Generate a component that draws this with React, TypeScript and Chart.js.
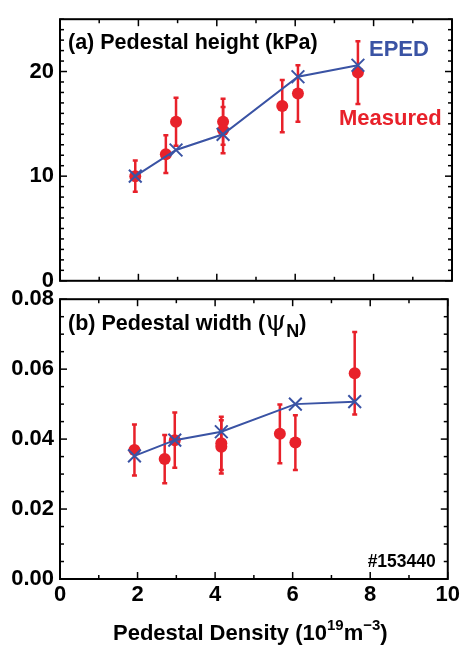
import React, { useEffect, useRef } from 'react';
import { Chart, registerables } from 'chart.js';

Chart.register(...registerables);

// ---- data ----
const X_MEASURED = [1.92, 2.7, 2.96, 4.16, 4.16, 5.67, 6.07, 7.6];
const HEIGHT_MEASURED = [10.0, 12.1, 15.2, 15.2, 14.4, 16.7, 17.9, 19.9];
const HEIGHT_ERR = [1.5, 1.8, 2.3, 2.2, 2.2, 2.5, 2.7, 3.0];
const WIDTH_MEASURED = [0.0369, 0.0343, 0.0397, 0.0388, 0.0378, 0.0415, 0.039, 0.0588];
const WIDTH_ERR = [0.0073, 0.0069, 0.0079, 0.0076, 0.0076, 0.0084, 0.0078, 0.0118];
const X_EPED = [1.92, 2.96, 4.16, 6.07, 7.6];
const HEIGHT_EPED = [10.0, 12.5, 14.0, 19.5, 20.6];
const WIDTH_EPED = [0.0352, 0.0397, 0.0421, 0.05, 0.0507];
const X_TICKS = [0, 2, 4, 6, 8, 10];
const X_TICK_LABELS = ['0', '2', '4', '6', '8', '10'];
const HEIGHT_TICKS = [0, 10, 20];
const HEIGHT_TICK_LABELS = ['0', '10', '20'];
const WIDTH_TICKS = [0, 0.02, 0.04, 0.06, 0.08];
const WIDTH_TICK_LABELS = ['0.00', '0.02', '0.04', '0.06', '0.08'];

const FONT = "'Liberation Sans', Arial, Helvetica, sans-serif";
const RED = '#e8212a';
const BLUE = '#3a53a4';

function framePlugin(xMinor: number, xMajor: number, yMinor: number, yMajor: number) {
  return {
    id: 'frame',
    afterDraw(chart: any) {
      const { ctx, chartArea: a, scales } = chart;
      const xs = scales.x;
      const ys = scales.y;
      ctx.save();
      ctx.strokeStyle = '#000';
      ctx.lineWidth = 1.5;
      const isMajor = (v: number, m: number) => Math.abs(v / m - Math.round(v / m)) < 1e-6;
      const line = (x1: number, y1: number, x2: number, y2: number) => {
        ctx.beginPath();
        ctx.moveTo(x1, y1);
        ctx.lineTo(x2, y2);
        ctx.stroke();
      };
      const nx = Math.round((xs.max - xs.min) / xMinor);
      for (let i = 0; i <= nx; i++) {
        const v = xs.min + i * xMinor;
        const len = isMajor(v, xMajor) ? 7 : 4;
        const px = xs.getPixelForValue(v);
        line(px, a.bottom, px, a.bottom - len);
        line(px, a.top, px, a.top + len);
      }
      const ny = Math.round((ys.max - ys.min) / yMinor);
      for (let i = 0; i <= ny; i++) {
        const v = ys.min + i * yMinor;
        const len = isMajor(v, yMajor) ? 7 : 4;
        const py = ys.getPixelForValue(v);
        line(a.left, py, a.left + len, py);
        line(a.right, py, a.right - len, py);
      }
      ctx.lineWidth = 2;
      ctx.strokeRect(a.left, a.top, a.right - a.left, a.bottom - a.top);
      ctx.restore();
    },
  };
}

function errorBarPlugin(xv: number[], yv: number[], err: number[]) {
  return {
    id: 'errorBars',
    beforeDatasetsDraw(chart: any) {
      const { ctx, scales } = chart;
      const x = scales.x;
      const y = scales.y;
      ctx.save();
      ctx.strokeStyle = RED;
      ctx.lineWidth = 2.5;
      xv.forEach((xx, i) => {
        const px = x.getPixelForValue(xx);
        const top = y.getPixelForValue(yv[i] + err[i]);
        const bot = y.getPixelForValue(yv[i] - err[i]);
        ctx.beginPath();
        ctx.moveTo(px, top);
        ctx.lineTo(px, bot);
        ctx.moveTo(px - 2.5, top);
        ctx.lineTo(px + 2.5, top);
        ctx.moveTo(px - 2.5, bot);
        ctx.lineTo(px + 2.5, bot);
        ctx.stroke();
      });
      ctx.restore();
    },
  };
}

type Part = { t: string; size: number; dy?: number; family?: string; weight?: string; dx?: number };

function drawParts(ctx: any, parts: Part[], x: number, y: number) {
  let cx = x;
  parts.forEach((p) => {
    ctx.font = `${p.weight || 'bold'} ${p.size}px ${p.family || FONT}`;
    cx += p.dx || 0;
    ctx.fillText(p.t, cx, y + (p.dy || 0));
    cx += ctx.measureText(p.t).width;
  });
}

function textPlugin(draw: (ctx: any, a: any) => void) {
  return {
    id: 'texts',
    afterDraw(chart: any) {
      const ctx = chart.ctx;
      ctx.save();
      ctx.textBaseline = 'alphabetic';
      ctx.textAlign = 'left';
      draw(ctx, chart.chartArea);
      ctx.restore();
    },
  };
}

function scatterData(xs: number[], ys: number[]) {
  return xs.map((x, i) => ({ x, y: ys[i] }));
}

function buildChart(
  canvas: HTMLCanvasElement,
  opts: {
    eped: number[];
    meas: number[];
    err: number[];
    yMin: number;
    yMax: number;
    yTicks: number[];
    yLabels: string[];
    yMinor: number;
    yMajor: number;
    showX: boolean;
    padding: any;
    texts: (ctx: any, a: any) => void;
  }
) {
  return new Chart(canvas, {
    type: 'scatter',
    data: {
      datasets: [
        {
          label: 'EPED',
          data: scatterData(X_EPED, opts.eped),
          showLine: true,
          borderColor: BLUE,
          borderWidth: 2,
          pointStyle: 'crossRot',
          pointRadius: 9,
          pointBorderWidth: 2,
          pointBorderColor: BLUE,
          pointBackgroundColor: BLUE,
          order: 0,
        } as any,
        {
          label: 'Measured',
          data: scatterData(X_MEASURED, opts.meas),
          showLine: false,
          pointStyle: 'circle',
          pointRadius: 6,
          pointBorderWidth: 0,
          backgroundColor: RED,
          pointBackgroundColor: RED,
          order: 1,
        } as any,
      ],
    },
    options: {
      responsive: false,
      animation: false,
      devicePixelRatio: 1,
      events: [],
      layout: { padding: opts.padding },
      plugins: { legend: { display: false }, tooltip: { enabled: false } },
      scales: {
        x: {
          type: 'linear',
          min: 0,
          max: 10,
          display: opts.showX,
          grid: { display: false, drawTicks: false },
          border: { display: false },
          ticks: {
            autoSkip: false,
            maxRotation: 0,
            padding: 3,
            color: '#000',
            font: { family: FONT, size: 22, weight: 'bold' },
            callback: (_v: any, i: number) => X_TICK_LABELS[i],
          },
          afterBuildTicks: (s: any) => {
            s.ticks = X_TICKS.map((v) => ({ value: v }));
          },
          afterFit: (s: any) => {
            if (opts.showX) s.height = 75;
          },
        },
        y: {
          type: 'linear',
          min: opts.yMin,
          max: opts.yMax,
          grid: { display: false, drawTicks: false },
          border: { display: false },
          ticks: {
            autoSkip: false,
            padding: 6,
            color: '#000',
            font: { family: FONT, size: 22, weight: 'bold' },
            callback: (_v: any, i: number) => opts.yLabels[i],
          },
          afterBuildTicks: (s: any) => {
            s.ticks = opts.yTicks.map((v) => ({ value: v }));
          },
          afterFit: (s: any) => {
            s.width = 60;
          },
        },
      },
    } as any,
    plugins: [
      errorBarPlugin(X_MEASURED, opts.meas, opts.err),
      framePlugin(1, 2, opts.yMinor, opts.yMajor),
      textPlugin(opts.texts),
    ],
  });
}

export default function App() {
  const topRef = useRef<HTMLCanvasElement>(null);
  const botRef = useRef<HTMLCanvasElement>(null);

  useEffect(() => {
    const c1 = buildChart(topRef.current!, {
      eped: HEIGHT_EPED,
      meas: HEIGHT_MEASURED,
      err: HEIGHT_ERR,
      yMin: 0,
      yMax: 25,
      yTicks: HEIGHT_TICKS,
      yLabels: HEIGHT_TICK_LABELS,
      yMinor: 1,
      yMajor: 10,
      showX: false,
      padding: { top: 10, right: 11, bottom: 11, left: 0 },
      texts: (ctx, a) => {
        ctx.fillStyle = '#000';
        ctx.font = `bold 21.5px ${FONT}`;
        ctx.fillText('(a) Pedestal height (kPa)', a.left + 8, a.top + 30);
        ctx.font = `bold 22px ${FONT}`;
        ctx.fillStyle = BLUE;
        ctx.fillText('EPED', 369, 56);
        ctx.fillStyle = RED;
        ctx.fillText('Measured', 339, 125);
      },
    });
    const c2 = buildChart(botRef.current!, {
      eped: WIDTH_EPED,
      meas: WIDTH_MEASURED,
      err: WIDTH_ERR,
      yMin: 0,
      yMax: 0.08,
      yTicks: WIDTH_TICKS,
      yLabels: WIDTH_TICK_LABELS,
      yMinor: 0.005,
      yMajor: 0.02,
      showX: true,
      padding: { top: 19, right: 11, bottom: 0, left: 0 },
      texts: (ctx, a) => {
        ctx.fillStyle = '#000';
        drawParts(
          ctx,
          [
            { t: '(b) Pedestal width (', size: 21.5 },
            { t: 'ψ', size: 27, weight: 'normal', family: "'DejaVu Serif', 'Liberation Serif', serif" },
            { t: 'N', size: 18, dy: 7 },
            { t: ')', size: 21.5 },
          ],
          a.left + 8,
          a.top + 31
        );
        ctx.font = `bold 17.5px ${FONT}`;
        ctx.textAlign = 'right';
        ctx.fillText('#153440', a.right - 12, a.bottom - 12);
        ctx.textAlign = 'left';
        drawParts(
          ctx,
          [
            { t: 'Pedestal Density (10', size: 22 },
            { t: '19', size: 15, dy: -10 },
            { t: 'm', size: 22 },
            { t: '\u22123', size: 15, dy: -10 },
            { t: ')', size: 22 },
          ],
          113,
          a.bottom + 61
        );
      },
    });
    return () => {
      c1.destroy();
      c2.destroy();
    };
  }, []);

  return (
    <div style={{ position: 'absolute', left: 0, top: 0, width: 463, height: 654, background: '#fff' }}>
      <canvas
        ref={topRef}
        width={463}
        height={300}
        style={{ position: 'absolute', left: 0, top: 0, width: 463, height: 300 }}
      />
      <canvas
        ref={botRef}
        width={463}
        height={374}
        style={{ position: 'absolute', left: 0, top: 280, width: 463, height: 374 }}
      />
    </div>
  );
}
